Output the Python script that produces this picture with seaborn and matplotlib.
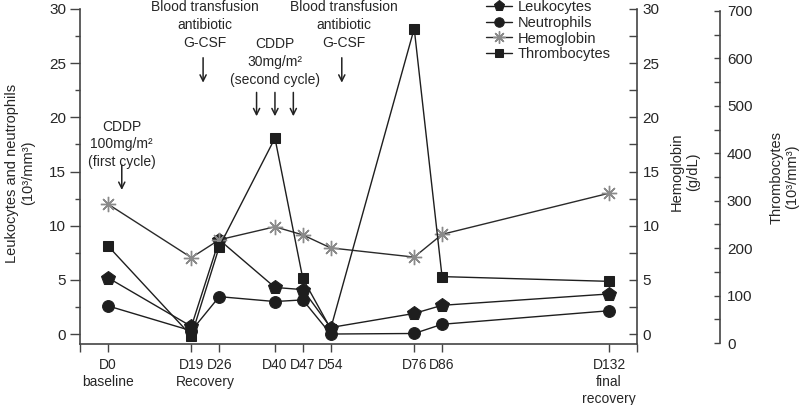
import matplotlib
matplotlib.use("Agg")
import matplotlib.pyplot as plt
import matplotlib.transforms as mtrans
import seaborn as sns
import pandas as pd
from matplotlib.ticker import MultipleLocator

# ---------------- data ----------------
days = ["D0", "D19", "D26", "D40", "D47", "D54", "D76", "D86", "D132"]
day_notes = ["baseline", "", "", "", "", "", "", "", "final\nrecovery"]
recovery_note = "Recovery"          # shared note under D19/D26
leukocytes = [5.2, 0.7, 8.7, 4.3, 4.1, 0.6, 1.9, 2.65, 3.7]
neutrophils = [2.6, 0.3, 3.45, 3.0, 3.15, 0.0, 0.05, 0.9, 2.15]
hemoglobin = [12.0, 7.05, 8.7, 9.9, 9.15, 7.95, 7.1, 9.2, 13.0]
thrombocytes = [205, 15, 203, 432, 136, 30, 663, 140, 130]

left_ticks = [0, 5, 10, 15, 20, 25, 30]
hgb_ticks = [0, 5, 10, 15, 20, 25, 30]
thr_ticks = [0, 100, 200, 300, 400, 500, 600, 700]

# ---------------- layout ----------------
# slot of each day on the (non-linear) time axis
slot = {"D0": 0, "D19": 3, "D26": 4, "D40": 6, "D47": 7, "D54": 8,
        "D76": 11, "D86": 12, "D132": 18}

df = pd.DataFrame({
    "day": days,
    "pos": [slot[d] for d in days],
    "Leukocytes": leukocytes,
    "Neutrophils": neutrophils,
    "Hemoglobin": hemoglobin,
    "Thrombocytes": thrombocytes,
})

sns.set_style("ticks")
plt.rcParams["font.family"] = ["Liberation Sans", "DejaVu Sans"]

W, H = 800, 405
fig = plt.figure(figsize=(W / 100, H / 100), dpi=100)
ax = fig.add_axes([80 / W, 1 - 344 / H, 557 / W, 335 / H])
axh = ax.twinx()
axt = ax.twinx()

line_col = "#1e1e1e"
spine_col = "#444444"

sns.lineplot(data=df, x="pos", y="Leukocytes", ax=ax, color=line_col, lw=1.0,
             marker="p", markersize=10, markeredgecolor=line_col,
             label="Leukocytes", legend=False, zorder=3)
sns.lineplot(data=df, x="pos", y="Neutrophils", ax=ax, color=line_col, lw=1.0,
             marker="o", markersize=8.5, markeredgecolor=line_col,
             label="Neutrophils", legend=False, zorder=3)
sns.lineplot(data=df, x="pos", y="Hemoglobin", ax=axh, color="#2a2a2a", lw=1.0,
             marker=(8, 2, 0), markersize=11, markeredgecolor="#8a8a8a",
             markeredgewidth=1.0, label="Hemoglobin", legend=False, zorder=2)
sns.lineplot(data=df, x="pos", y="Thrombocytes", ax=axt, color=line_col, lw=1.0,
             marker="s", markersize=7.5, markeredgecolor=line_col,
             label="Thrombocytes", legend=False, zorder=3)

# ---- axes limits ----
ax.set_xlim(-1, 19)
ax.set_ylim(-0.92, 30)
axh.set_ylim(-0.92, 30)
axt.set_ylim(-2.1, 704.2)

# ---- x axis ----
xt = [-1] + [slot[d] for d in days] + [19]
xl = [""] + [d + ("\n" + n if n else "") for d, n in zip(days, day_notes)] + [""]
ax.set_xticks(xt)
ax.set_xticklabels(xl, fontsize=10, linespacing=1.3)
ax.tick_params(axis="x", direction="out", length=6, width=1, pad=4,
               color=spine_col)
ax.set_xlabel("")
tr = mtrans.blended_transform_factory(ax.transData, fig.transFigure)
ax.text((slot["D19"] + slot["D26"]) / 2, 1 - 382 / H, recovery_note,
        transform=tr, ha="center", va="center", fontsize=10)

# ---- left y axis ----
ax.set_yticks(left_ticks)
ax.yaxis.set_minor_locator(MultipleLocator(2.5))
ax.tick_params(axis="y", which="major", direction="out", length=7, width=1,
               pad=3, labelsize=11, color=spine_col)
ax.tick_params(axis="y", which="minor", direction="out", length=3.5, width=1,
               color=spine_col)
ax.set_ylabel("")

# ---- hemoglobin axis ----
axh.set_yticks(hgb_ticks)
axh.yaxis.set_minor_locator(MultipleLocator(2.5))
axh.tick_params(axis="y", which="both", direction="in", length=5.5, width=1,
                pad=4, labelsize=11, color=spine_col)
axh.set_ylabel("")

# ---- thrombocyte axis ----
axt.spines["right"].set_position(("axes", (720 - 80) / 557))
axt.spines["right"].set_bounds(0, 700)
axt.set_yticks(thr_ticks)
axt.yaxis.set_minor_locator(MultipleLocator(50))
axt.tick_params(axis="y", which="both", direction="in", length=4, width=1,
                pad=5, labelsize=11, color=spine_col)
axt.set_ylabel("")

for a in (ax, axh, axt):
    a.spines["top"].set_visible(False)
    for s in a.spines.values():
        s.set_color(spine_col)
        s.set_linewidth(1.2)
ax.spines["right"].set_visible(False)
for a in (axh, axt):
    a.spines["left"].set_visible(False)
    a.spines["bottom"].set_visible(False)
axh.spines["right"].set_visible(True)

# ---- axis titles ----
fig.text(20 / W, 1 - 173 / H, "Leukocytes and neutrophils\n(10³/mm³)",
         rotation=90, ha="center", va="center", fontsize=10.5, linespacing=1.15)
fig.text(685 / W, 1 - 172 / H, "Hemoglobin\n(g/dL)",
         rotation=90, ha="center", va="center", fontsize=10.5, linespacing=1.15)
fig.text(784 / W, 1 - 177 / H, "Thrombocytes\n(10³/mm³)",
         rotation=90, ha="center", va="center", fontsize=10.5, linespacing=1.15)

# ---- annotations ----
txt_kw = dict(ha="center", va="center", fontsize=10, linespacing=1.35,
              clip_on=False)
arr_kw = dict(arrowstyle="->", lw=1.1, color="#222222", mutation_scale=11,
              shrinkA=0, shrinkB=0)

ax.text(0.5, 17.5, "CDDP\n100mg/m²\n(first cycle)", **txt_kw)
ax.annotate("", xy=(0.5, 13.3), xytext=(0.5, 15.6), arrowprops=arr_kw,
            annotation_clip=False)

ax.text(3.5, 28.5, "Blood transfusion\nantibiotic\nG-CSF", **txt_kw)
ax.annotate("", xy=(3.42, 23.2), xytext=(3.42, 25.5), arrowprops=arr_kw,
            annotation_clip=False)

ax.text(6.0, 25.1, "CDDP\n30mg/m²\n(second cycle)", **txt_kw)
for xa in (5.34, 6.0, 6.66):
    ax.annotate("", xy=(xa, 20.1), xytext=(xa, 22.3), arrowprops=arr_kw,
                annotation_clip=False)

ax.text(8.46, 28.5, "Blood transfusion\nantibiotic\nG-CSF", **txt_kw)
ax.annotate("", xy=(8.4, 23.2), xytext=(8.4, 25.5), arrowprops=arr_kw,
            annotation_clip=False)

# ---- legend ----
handles = [ax.lines[0], ax.lines[1], axh.lines[0], axt.lines[0]]
labels = ["Leukocytes", "Neutrophils", "Hemoglobin", "Thrombocytes"]
fig.legend(handles, labels, loc="upper left",
           bbox_to_anchor=(486 / W, 1 - 0 / H), frameon=False, fontsize=10.5,
           handlelength=1.75, handletextpad=0.45, labelspacing=0.12,
           borderpad=0, borderaxespad=0, markerscale=0.8)

fig.savefig("out.png", dpi=100)
